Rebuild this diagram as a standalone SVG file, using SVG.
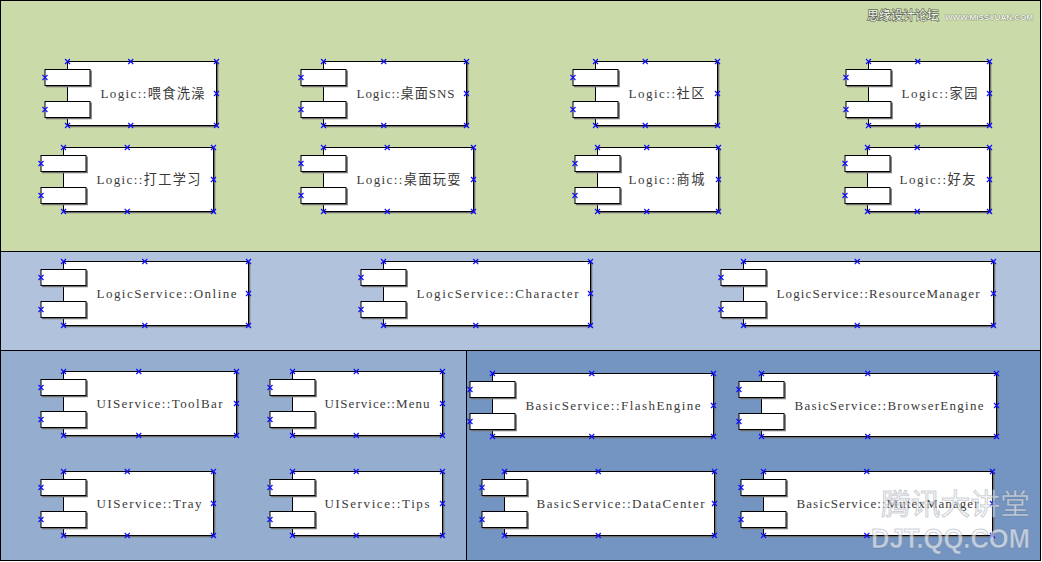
<svg xmlns="http://www.w3.org/2000/svg" xmlns:xlink="http://www.w3.org/1999/xlink" width="1042" height="562" viewBox="0 0 1042 562">
<style>
.band{stroke:#000;stroke-width:1}
.main,.sm{fill:#fff;stroke:#000;stroke-width:1}
.sh{fill:none;stroke:#6e6e6e;stroke-width:1.6}
.lbl{font-family:"Liberation Serif","DejaVu Serif",serif;font-size:13px;fill:#3a3a3a}
.cjk{font-family:"Noto Sans CJK SC",sans-serif;font-size:13.2px}
.wm1{font-family:"Noto Sans CJK SC",sans-serif;font-size:12px;fill:#f4f6ee;stroke:#5f6a55;stroke-width:1.4px;paint-order:stroke}
.wm2{font-family:"Liberation Sans",sans-serif;font-weight:bold;font-size:8px;fill:#f2f4ea;stroke:#6b7560;stroke-width:0.7px;paint-order:stroke}
.wm3{font-family:"Noto Sans CJK SC",sans-serif;font-size:29px;fill:#f4f6fa;fill-opacity:0.6;stroke:#5a6470;stroke-opacity:0.3;stroke-width:1px}
.wm4{font-family:"Liberation Sans",sans-serif;font-weight:bold;font-size:27px;fill:#f4f6fa;fill-opacity:0.6;stroke:#5a6470;stroke-opacity:0.3;stroke-width:1px}
</style>
<defs>
<path id="mk" d="M-2.5-2.5L2.5 2.5M-2.5 2.5L2.5-2.5" stroke="#1010ff" stroke-width="1.2" fill="none"/>
</defs>
<g id="bands">
<rect class="band" x="0.5" y="0.5" width="1040" height="251" fill="#cbdaa9"/>
<rect class="band" x="0.5" y="251.5" width="1040" height="99" fill="#b1c3dc"/>
<rect class="band" x="0.5" y="350.5" width="466" height="210" fill="#95aecf"/>
<rect class="band" x="466.5" y="350.5" width="574" height="210" fill="#7494c1"/>
</g>

<g id="c1" transform="translate(67.5,61.5)">
<path class="sh" d="M150,1V65H1"/><rect class="main" width="149" height="64"/>
<path class="sh" d="M23.5,9V25H-21.5M23.5,41V57H-21.5"/><rect class="sm" x="-22.5" y="8" width="45" height="16"/><rect class="sm" x="-22.5" y="40" width="45" height="16"/>
<text class="lbl" x="33" y="36" textLength="104" lengthAdjust="spacing">Logic::<tspan class="cjk">喂食洗澡</tspan></text>
<use href="#mk" x="0" y="0"/><use href="#mk" x="149" y="0"/><use href="#mk" x="0" y="64"/><use href="#mk" x="149" y="64"/><use href="#mk" x="63.25" y="0"/><use href="#mk" x="63.25" y="64"/><use href="#mk" x="149" y="32"/><use href="#mk" x="-22.5" y="16"/><use href="#mk" x="-22.5" y="48"/>
</g>
<g id="c2" transform="translate(323.5,61.5)">
<path class="sh" d="M144,1V65H1"/><rect class="main" width="143" height="64"/>
<path class="sh" d="M23.5,9V25H-21.5M23.5,41V57H-21.5"/><rect class="sm" x="-22.5" y="8" width="45" height="16"/><rect class="sm" x="-22.5" y="40" width="45" height="16"/>
<text class="lbl" x="33" y="36" textLength="98" lengthAdjust="spacing">Logic::<tspan class="cjk">桌面</tspan>SNS</text>
<use href="#mk" x="0" y="0"/><use href="#mk" x="143" y="0"/><use href="#mk" x="0" y="64"/><use href="#mk" x="143" y="64"/><use href="#mk" x="60.25" y="0"/><use href="#mk" x="60.25" y="64"/><use href="#mk" x="143" y="32"/><use href="#mk" x="-22.5" y="16"/><use href="#mk" x="-22.5" y="48"/>
</g>
<g id="c3" transform="translate(595.5,61.5)">
<path class="sh" d="M123,1V65H1"/><rect class="main" width="122" height="64"/>
<path class="sh" d="M23.5,9V25H-21.5M23.5,41V57H-21.5"/><rect class="sm" x="-22.5" y="8" width="45" height="16"/><rect class="sm" x="-22.5" y="40" width="45" height="16"/>
<text class="lbl" x="33" y="36" textLength="76" lengthAdjust="spacing">Logic::<tspan class="cjk">社区</tspan></text>
<use href="#mk" x="0" y="0"/><use href="#mk" x="122" y="0"/><use href="#mk" x="0" y="64"/><use href="#mk" x="122" y="64"/><use href="#mk" x="49.75" y="0"/><use href="#mk" x="49.75" y="64"/><use href="#mk" x="122" y="32"/><use href="#mk" x="-22.5" y="16"/><use href="#mk" x="-22.5" y="48"/>
</g>
<g id="c4" transform="translate(868.5,61.5)">
<path class="sh" d="M122,1V65H1"/><rect class="main" width="121" height="64"/>
<path class="sh" d="M23.5,9V25H-21.5M23.5,41V57H-21.5"/><rect class="sm" x="-22.5" y="8" width="45" height="16"/><rect class="sm" x="-22.5" y="40" width="45" height="16"/>
<text class="lbl" x="33" y="36" textLength="76" lengthAdjust="spacing">Logic::<tspan class="cjk">家园</tspan></text>
<use href="#mk" x="0" y="0"/><use href="#mk" x="121" y="0"/><use href="#mk" x="0" y="64"/><use href="#mk" x="121" y="64"/><use href="#mk" x="49.25" y="0"/><use href="#mk" x="49.25" y="64"/><use href="#mk" x="121" y="32"/><use href="#mk" x="-22.5" y="16"/><use href="#mk" x="-22.5" y="48"/>
</g>
<g id="c5" transform="translate(63.5,147.5)">
<path class="sh" d="M151,1V65H1"/><rect class="main" width="150" height="64"/>
<path class="sh" d="M23.5,9V25H-21.5M23.5,41V57H-21.5"/><rect class="sm" x="-22.5" y="8" width="45" height="16"/><rect class="sm" x="-22.5" y="40" width="45" height="16"/>
<text class="lbl" x="33" y="36" textLength="104" lengthAdjust="spacing">Logic::<tspan class="cjk">打工学习</tspan></text>
<use href="#mk" x="0" y="0"/><use href="#mk" x="150" y="0"/><use href="#mk" x="0" y="64"/><use href="#mk" x="150" y="64"/><use href="#mk" x="63.75" y="0"/><use href="#mk" x="63.75" y="64"/><use href="#mk" x="150" y="32"/><use href="#mk" x="-22.5" y="16"/><use href="#mk" x="-22.5" y="48"/>
</g>
<g id="c6" transform="translate(323.5,147.5)">
<path class="sh" d="M151,1V65H1"/><rect class="main" width="150" height="64"/>
<path class="sh" d="M23.5,9V25H-21.5M23.5,41V57H-21.5"/><rect class="sm" x="-22.5" y="8" width="45" height="16"/><rect class="sm" x="-22.5" y="40" width="45" height="16"/>
<text class="lbl" x="33" y="36" textLength="104" lengthAdjust="spacing">Logic::<tspan class="cjk">桌面玩耍</tspan></text>
<use href="#mk" x="0" y="0"/><use href="#mk" x="150" y="0"/><use href="#mk" x="0" y="64"/><use href="#mk" x="150" y="64"/><use href="#mk" x="63.75" y="0"/><use href="#mk" x="63.75" y="64"/><use href="#mk" x="150" y="32"/><use href="#mk" x="-22.5" y="16"/><use href="#mk" x="-22.5" y="48"/>
</g>
<g id="c7" transform="translate(597.5,147.5)">
<path class="sh" d="M122,1V65H1"/><rect class="main" width="121" height="64"/>
<path class="sh" d="M23.5,9V25H-21.5M23.5,41V57H-21.5"/><rect class="sm" x="-22.5" y="8" width="45" height="16"/><rect class="sm" x="-22.5" y="40" width="45" height="16"/>
<text class="lbl" x="31" y="36" textLength="76" lengthAdjust="spacing">Logic::<tspan class="cjk">商城</tspan></text>
<use href="#mk" x="0" y="0"/><use href="#mk" x="121" y="0"/><use href="#mk" x="0" y="64"/><use href="#mk" x="121" y="64"/><use href="#mk" x="49.25" y="0"/><use href="#mk" x="49.25" y="64"/><use href="#mk" x="121" y="32"/><use href="#mk" x="-22.5" y="16"/><use href="#mk" x="-22.5" y="48"/>
</g>
<g id="c8" transform="translate(867.5,147.5)">
<path class="sh" d="M123,1V65H1"/><rect class="main" width="122" height="64"/>
<path class="sh" d="M23.5,9V25H-21.5M23.5,41V57H-21.5"/><rect class="sm" x="-22.5" y="8" width="45" height="16"/><rect class="sm" x="-22.5" y="40" width="45" height="16"/>
<text class="lbl" x="32" y="36" textLength="76" lengthAdjust="spacing">Logic::<tspan class="cjk">好友</tspan></text>
<use href="#mk" x="0" y="0"/><use href="#mk" x="122" y="0"/><use href="#mk" x="0" y="64"/><use href="#mk" x="122" y="64"/><use href="#mk" x="49.75" y="0"/><use href="#mk" x="49.75" y="64"/><use href="#mk" x="122" y="32"/><use href="#mk" x="-22.5" y="16"/><use href="#mk" x="-22.5" y="48"/>
</g>

<g id="c9" transform="translate(63.5,261.5)">
<path class="sh" d="M186,1V65H1"/><rect class="main" width="185" height="64"/>
<path class="sh" d="M23.5,9V25H-21.5M23.5,41V57H-21.5"/><rect class="sm" x="-22.5" y="8" width="45" height="16"/><rect class="sm" x="-22.5" y="40" width="45" height="16"/>
<text class="lbl" x="33" y="36" textLength="140" lengthAdjust="spacing">LogicService::Online</text>
<use href="#mk" x="0" y="0"/><use href="#mk" x="185" y="0"/><use href="#mk" x="0" y="64"/><use href="#mk" x="185" y="64"/><use href="#mk" x="81.25" y="0"/><use href="#mk" x="81.25" y="64"/><use href="#mk" x="185" y="32"/><use href="#mk" x="-22.5" y="16"/><use href="#mk" x="-22.5" y="48"/>
</g>
<g id="c10" transform="translate(383.5,261.5)">
<path class="sh" d="M208,1V65H1"/><rect class="main" width="207" height="64"/>
<path class="sh" d="M23.5,9V25H-21.5M23.5,41V57H-21.5"/><rect class="sm" x="-22.5" y="8" width="45" height="16"/><rect class="sm" x="-22.5" y="40" width="45" height="16"/>
<text class="lbl" x="33" y="36" textLength="162" lengthAdjust="spacing">LogicService::Character</text>
<use href="#mk" x="0" y="0"/><use href="#mk" x="207" y="0"/><use href="#mk" x="0" y="64"/><use href="#mk" x="207" y="64"/><use href="#mk" x="92.25" y="0"/><use href="#mk" x="92.25" y="64"/><use href="#mk" x="207" y="32"/><use href="#mk" x="-22.5" y="16"/><use href="#mk" x="-22.5" y="48"/>
</g>
<g id="c11" transform="translate(743.5,261.5)">
<path class="sh" d="M251,1V65H1"/><rect class="main" width="250" height="64"/>
<path class="sh" d="M23.5,9V25H-21.5M23.5,41V57H-21.5"/><rect class="sm" x="-22.5" y="8" width="45" height="16"/><rect class="sm" x="-22.5" y="40" width="45" height="16"/>
<text class="lbl" x="33" y="36" textLength="203" lengthAdjust="spacing">LogicService::ResourceManager</text>
<use href="#mk" x="0" y="0"/><use href="#mk" x="250" y="0"/><use href="#mk" x="0" y="64"/><use href="#mk" x="250" y="64"/><use href="#mk" x="113.75" y="0"/><use href="#mk" x="113.75" y="64"/><use href="#mk" x="250" y="32"/><use href="#mk" x="-22.5" y="16"/><use href="#mk" x="-22.5" y="48"/>
</g>

<g id="c12" transform="translate(63.5,371.5)">
<path class="sh" d="M174,1V65H1"/><rect class="main" width="173" height="64"/>
<path class="sh" d="M23.5,9V25H-21.5M23.5,41V57H-21.5"/><rect class="sm" x="-22.5" y="8" width="45" height="16"/><rect class="sm" x="-22.5" y="40" width="45" height="16"/>
<text class="lbl" x="33" y="36" textLength="126" lengthAdjust="spacing">UIService::ToolBar</text>
<use href="#mk" x="0" y="0"/><use href="#mk" x="173" y="0"/><use href="#mk" x="0" y="64"/><use href="#mk" x="173" y="64"/><use href="#mk" x="75.25" y="0"/><use href="#mk" x="75.25" y="64"/><use href="#mk" x="173" y="32"/><use href="#mk" x="-22.5" y="16"/><use href="#mk" x="-22.5" y="48"/>
</g>
<g id="c13" transform="translate(292.5,371.5)">
<path class="sh" d="M151,1V65H1"/><rect class="main" width="150" height="64"/>
<path class="sh" d="M23.5,9V25H-21.5M23.5,41V57H-21.5"/><rect class="sm" x="-22.5" y="8" width="45" height="16"/><rect class="sm" x="-22.5" y="40" width="45" height="16"/>
<text class="lbl" x="32" y="36" textLength="105" lengthAdjust="spacing">UIService::Menu</text>
<use href="#mk" x="0" y="0"/><use href="#mk" x="150" y="0"/><use href="#mk" x="0" y="64"/><use href="#mk" x="150" y="64"/><use href="#mk" x="63.75" y="0"/><use href="#mk" x="63.75" y="64"/><use href="#mk" x="150" y="32"/><use href="#mk" x="-22.5" y="16"/><use href="#mk" x="-22.5" y="48"/>
</g>
<g id="c14" transform="translate(492.5,373.5)">
<path class="sh" d="M222,1V64H1"/><rect class="main" width="221" height="63"/>
<path class="sh" d="M23.5,9V25H-21.5M23.5,41V57H-21.5"/><rect class="sm" x="-22.5" y="8" width="45" height="16"/><rect class="sm" x="-22.5" y="40" width="45" height="16"/>
<text class="lbl" x="33" y="36" textLength="175" lengthAdjust="spacing">BasicService::FlashEngine</text>
<use href="#mk" x="0" y="0"/><use href="#mk" x="221" y="0"/><use href="#mk" x="0" y="63"/><use href="#mk" x="221" y="63"/><use href="#mk" x="99.25" y="0"/><use href="#mk" x="99.25" y="63"/><use href="#mk" x="221" y="32"/><use href="#mk" x="-22.5" y="16"/><use href="#mk" x="-22.5" y="48"/>
</g>
<g id="c15" transform="translate(761.5,373.5)">
<path class="sh" d="M236,1V64H1"/><rect class="main" width="235" height="63"/>
<path class="sh" d="M23.5,9V25H-21.5M23.5,41V57H-21.5"/><rect class="sm" x="-22.5" y="8" width="45" height="16"/><rect class="sm" x="-22.5" y="40" width="45" height="16"/>
<text class="lbl" x="33" y="36" textLength="189" lengthAdjust="spacing">BasicService::BrowserEngine</text>
<use href="#mk" x="0" y="0"/><use href="#mk" x="235" y="0"/><use href="#mk" x="0" y="63"/><use href="#mk" x="235" y="63"/><use href="#mk" x="106.25" y="0"/><use href="#mk" x="106.25" y="63"/><use href="#mk" x="235" y="32"/><use href="#mk" x="-22.5" y="16"/><use href="#mk" x="-22.5" y="48"/>
</g>
<g id="c16" transform="translate(63.5,471.5)">
<path class="sh" d="M151,1V65H1"/><rect class="main" width="150" height="64"/>
<path class="sh" d="M23.5,9V25H-21.5M23.5,41V57H-21.5"/><rect class="sm" x="-22.5" y="8" width="45" height="16"/><rect class="sm" x="-22.5" y="40" width="45" height="16"/>
<text class="lbl" x="33" y="36" textLength="105" lengthAdjust="spacing">UIService::Tray</text>
<use href="#mk" x="0" y="0"/><use href="#mk" x="150" y="0"/><use href="#mk" x="0" y="64"/><use href="#mk" x="150" y="64"/><use href="#mk" x="63.75" y="0"/><use href="#mk" x="63.75" y="64"/><use href="#mk" x="150" y="32"/><use href="#mk" x="-22.5" y="16"/><use href="#mk" x="-22.5" y="48"/>
</g>
<g id="c17" transform="translate(292.5,471.5)">
<path class="sh" d="M151,1V65H1"/><rect class="main" width="150" height="64"/>
<path class="sh" d="M23.5,9V25H-21.5M23.5,41V57H-21.5"/><rect class="sm" x="-22.5" y="8" width="45" height="16"/><rect class="sm" x="-22.5" y="40" width="45" height="16"/>
<text class="lbl" x="32" y="36" textLength="105" lengthAdjust="spacing">UIService::Tips</text>
<use href="#mk" x="0" y="0"/><use href="#mk" x="150" y="0"/><use href="#mk" x="0" y="64"/><use href="#mk" x="150" y="64"/><use href="#mk" x="63.75" y="0"/><use href="#mk" x="63.75" y="64"/><use href="#mk" x="150" y="32"/><use href="#mk" x="-22.5" y="16"/><use href="#mk" x="-22.5" y="48"/>
</g>
<g id="c18" transform="translate(504.5,471.5)">
<path class="sh" d="M211,1V65H1"/><rect class="main" width="210" height="64"/>
<path class="sh" d="M23.5,9V25H-21.5M23.5,41V57H-21.5"/><rect class="sm" x="-22.5" y="8" width="45" height="16"/><rect class="sm" x="-22.5" y="40" width="45" height="16"/>
<text class="lbl" x="32" y="36" textLength="168" lengthAdjust="spacing">BasicService::DataCenter</text>
<use href="#mk" x="0" y="0"/><use href="#mk" x="210" y="0"/><use href="#mk" x="0" y="64"/><use href="#mk" x="210" y="64"/><use href="#mk" x="93.75" y="0"/><use href="#mk" x="93.75" y="64"/><use href="#mk" x="210" y="32"/><use href="#mk" x="-22.5" y="16"/><use href="#mk" x="-22.5" y="48"/>
</g>
<g id="c19" transform="translate(763.5,471.5)">
<path class="sh" d="M230,1V65H1"/><rect class="main" width="229" height="64"/>
<path class="sh" d="M23.5,9V25H-21.5M23.5,41V57H-21.5"/><rect class="sm" x="-22.5" y="8" width="45" height="16"/><rect class="sm" x="-22.5" y="40" width="45" height="16"/>
<text class="lbl" x="33" y="36" textLength="182" lengthAdjust="spacing">BasicService::MutexManager</text>
<use href="#mk" x="0" y="0"/><use href="#mk" x="229" y="0"/><use href="#mk" x="0" y="64"/><use href="#mk" x="229" y="64"/><use href="#mk" x="103.25" y="0"/><use href="#mk" x="103.25" y="64"/><use href="#mk" x="229" y="32"/><use href="#mk" x="-22.5" y="16"/><use href="#mk" x="-22.5" y="48"/>
</g>

<g id="connectors"/>

<g id="watermarks">
<text class="wm1" x="867" y="20">思缘设计论坛</text>
<text class="wm2" x="945" y="19.5" textLength="88" lengthAdjust="spacingAndGlyphs">WWW.MISSYUAN.COM</text>
<text class="wm3" x="881" y="515" textLength="149" lengthAdjust="spacingAndGlyphs">腾讯大讲堂</text>
<text class="wm4" x="871" y="548" textLength="159" lengthAdjust="spacingAndGlyphs">DJT.QQ.COM</text>
</g>
</svg>
